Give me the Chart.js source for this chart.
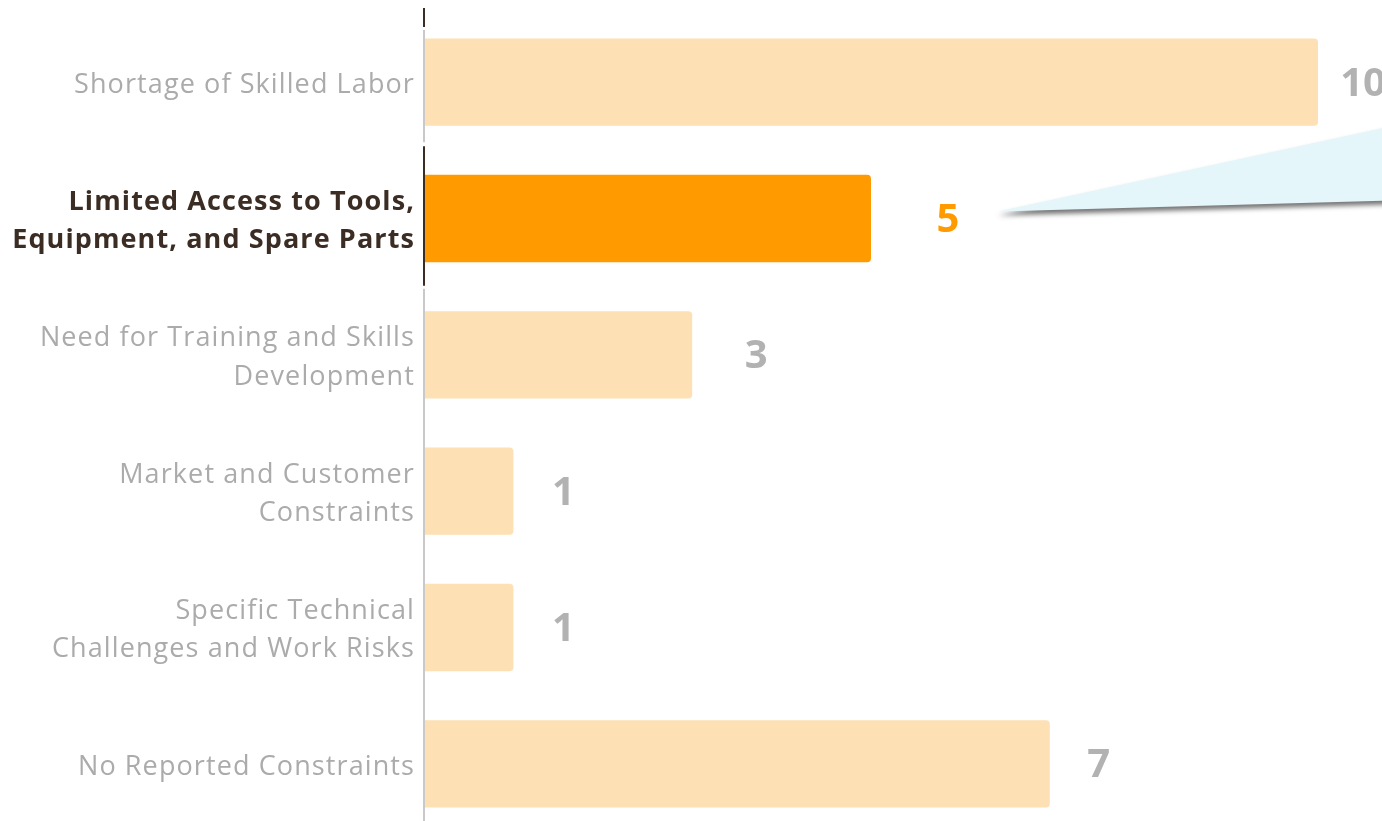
<!DOCTYPE html>
<html>
<head>
<meta charset="utf-8">
<script src="https://cdn.jsdelivr.net/npm/chart.js@4"></script>
<style>
  html, body { margin: 0; padding: 0; background: #fff; overflow: hidden; }
  #wrap { width: 1382px; height: 832px; }
</style>
</head>
<body>
<div id="wrap"><canvas id="constraintsChart"></canvas></div>
<script>
const categories = [
    ["Shortage of Skilled Labor"],
    ["Limited Access to Tools,", "Equipment, and Spare Parts"],
    ["Need for Training and Skills", "Development"],
    ["Market and Customer", "Constraints"],
    ["Specific Technical", "Challenges and Work Risks"],
    ["No Reported Constraints"]
];
const counts = [10, 5, 3, 1, 1, 7];
const highlightIndex = 1;

const PEACH = "#fde0b3";
const ORANGE = "#ff9b00";
const GREY_TEXT = "#ababab";
const DARK = "#3b2d24";
const FONT = "'Open Sans', sans-serif";

// horizontal gap between the end of a bar and its value label
const labelGap = [45, 77, 64, 50, 50, 49];

// slightly tracked-out category labels
const labelSpacing = {
    id: "labelSpacing",
    beforeDraw(chart) { chart.ctx.letterSpacing = "1.1px"; }
};

const valueLabels = {
    id: "valueLabels",
    afterDatasetsDraw(chart) {
        const ctx = chart.ctx;
        const meta = chart.getDatasetMeta(0);
        ctx.save();
        ctx.letterSpacing = "0px";
        meta.data.forEach(function (bar, i) {
            const x = bar.x + labelGap[i];
            const y = bar.y + 2;

            if (i === highlightIndex) {
                // pale callout wedge running off to the right
                const tipX = x + 50;
                const tipY = y - 9;
                ctx.save();
                ctx.shadowColor = "rgba(0,0,0,0.55)";
                ctx.shadowBlur = 5;
                ctx.shadowOffsetY = 4;
                ctx.fillStyle = "#e4f6f9";
                ctx.beginPath();
                ctx.moveTo(tipX, tipY);
                ctx.lineTo(chart.width + 40, tipY - 92);
                ctx.lineTo(chart.width + 40, tipY - 12);
                ctx.closePath();
                ctx.fill();
                ctx.restore();
            }

            ctx.font = "bold 40px " + FONT;
            ctx.textAlign = "center";
            ctx.textBaseline = "middle";
            ctx.fillStyle = i === highlightIndex ? ORANGE : "#b2b2b2";
            ctx.fillText(String(counts[i]), x, y);
        });
        ctx.restore();
    }
};

const axisLine = {
    id: "axisLine",
    afterDraw(chart) {
        const ctx = chart.ctx;
        const area = chart.chartArea;
        const yScale = chart.scales.y;
        const x = area.left;
        const band = (yScale.bottom - yScale.top) / categories.length;
        const hy = yScale.getPixelForValue(highlightIndex);
        ctx.save();
        ctx.lineWidth = 2;
        ctx.strokeStyle = "#c9c9c9";
        ctx.beginPath();
        ctx.moveTo(x, area.top + 16);
        ctx.lineTo(x, hy - band / 2 - 8);
        ctx.moveTo(x, hy + band / 2 + 2);
        ctx.lineTo(x, chart.height);
        ctx.stroke();

        ctx.strokeStyle = DARK;
        ctx.beginPath();
        ctx.moveTo(x, 8);
        ctx.lineTo(x, 27);
        ctx.moveTo(x, hy - band / 2 - 4);
        ctx.lineTo(x, hy + band / 2 - 1);
        ctx.stroke();
        ctx.restore();
    }
};

new Chart(document.getElementById("constraintsChart"), {
    type: "bar",
    data: {
        labels: categories,
        datasets: [{
            data: counts,
            backgroundColor: counts.map(function (v, i) {
                return i === highlightIndex ? ORANGE : PEACH;
            }),
            borderRadius: 4,
            borderSkipped: "start",
            barPercentage: 0.64,
            categoryPercentage: 1
        }]
    },
    options: {
        indexAxis: "y",
        responsive: true,
        maintainAspectRatio: false,
        animation: false,
        layout: { padding: { top: 14, right: 64, bottom: 0, left: 0 } },
        plugins: {
            legend: { display: false },
            tooltip: { enabled: false }
        },
        scales: {
            x: {
                display: false,
                min: 0,
                max: 10
            },
            y: {
                grid: { display: false, drawTicks: false },
                border: { display: false },
                afterFit: function (scale) {
                    scale.width = 424;
                    scale.paddingTop = 0;
                    scale.paddingBottom = 0;
                },
                ticks: {
                    padding: 9,
                    labelOffset: 3,
                    color: function (c) {
                        return c.index === highlightIndex ? DARK : GREY_TEXT;
                    },
                    font: function (c) {
                        return {
                            family: FONT,
                            size: 27,
                            weight: c.index === highlightIndex ? "bold" : "normal",
                            lineHeight: 1.41
                        };
                    }
                }
            }
        }
    },
    plugins: [labelSpacing, valueLabels, axisLine]
});
</script>
</body>
</html>
